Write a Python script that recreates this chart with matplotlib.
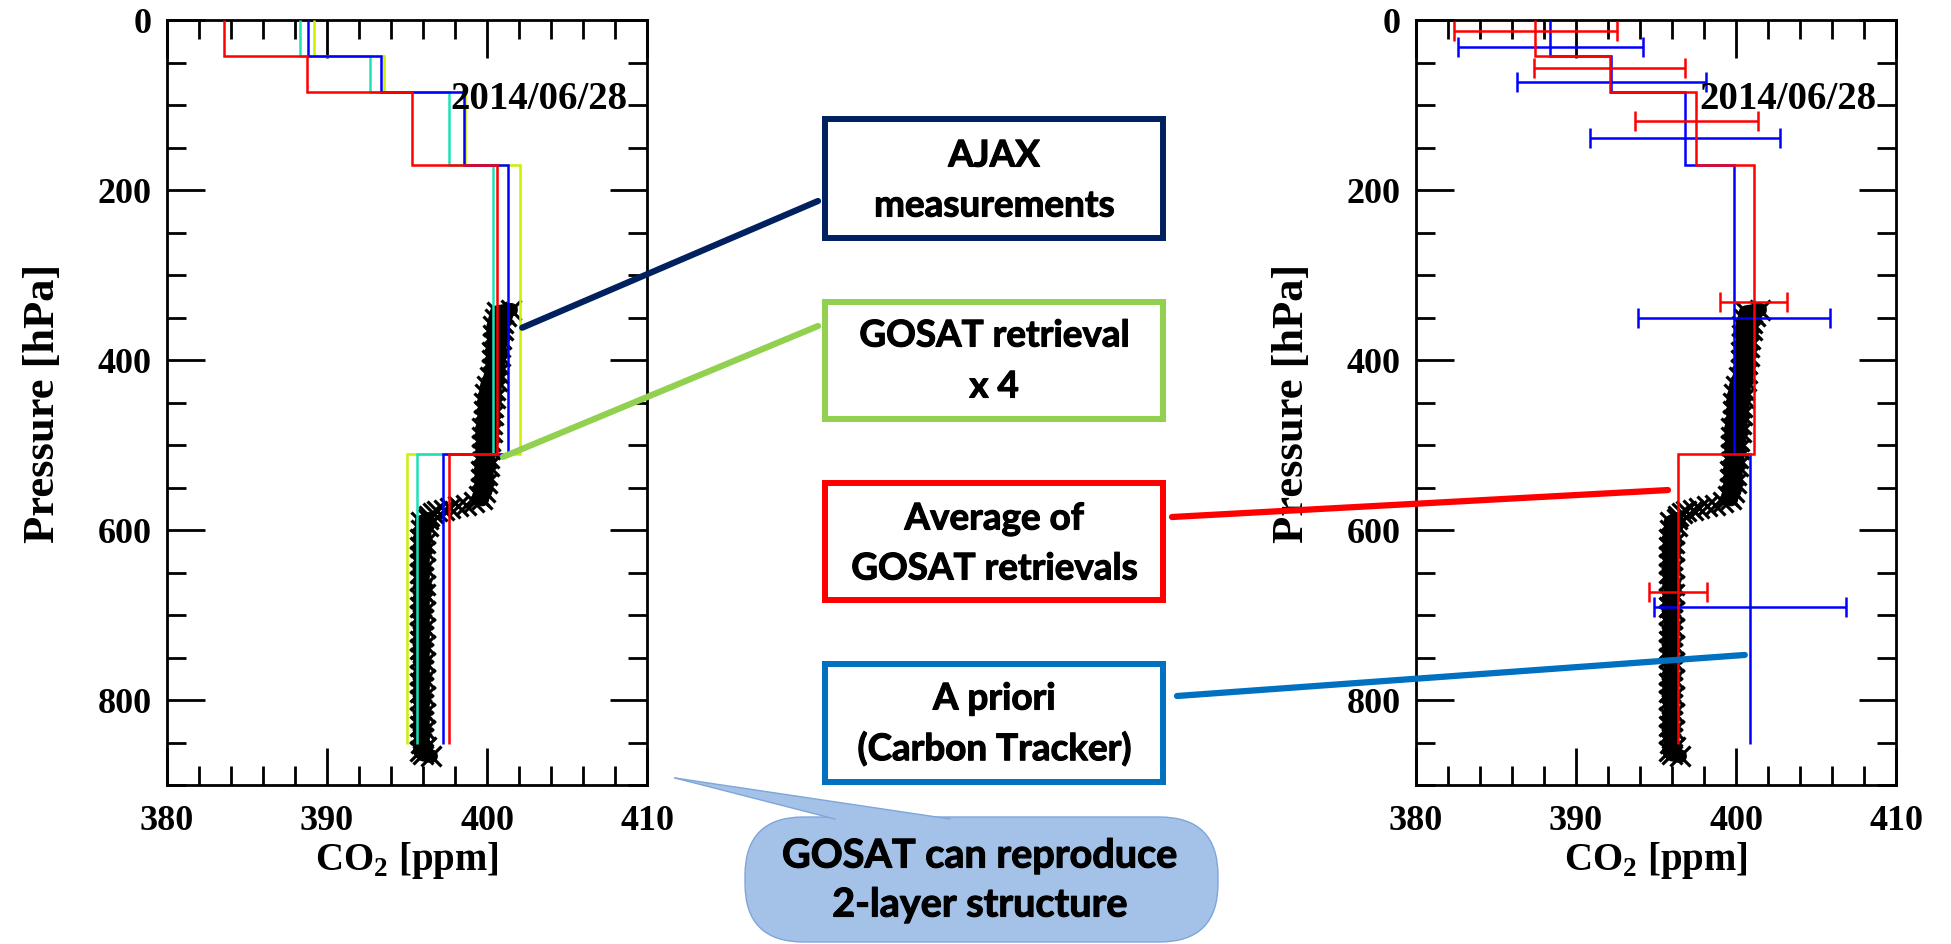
import matplotlib
matplotlib.use("Agg")
import matplotlib.pyplot as plt
import matplotlib.patheffects as pe
import numpy as np
from matplotlib.patches import Rectangle, FancyBboxPatch, Polygon, ConnectionPatch
from matplotlib.lines import Line2D
from matplotlib.ticker import MultipleLocator

plt.rcParams["font.family"] = ["Liberation Serif", "DejaVu Serif"]
plt.rcParams["font.weight"] = "bold"
plt.rcParams["mathtext.fontset"] = "custom"
plt.rcParams["mathtext.rm"] = "Liberation Serif:bold"
plt.rcParams["mathtext.bf"] = "Liberation Serif:bold"

W, H = 1951, 945
DATE = "2014/06/28"

# ---------------------------------------------------------------- data
# GOSAT layer edges [hPa]
layer_edges = [0, 42.5, 85, 170, 510, 852]

# four GOSAT retrievals, one CO2 value [ppm] per layer
ret_cyan = [388.3, 392.7, 397.6, 400.4, 395.65]
ret_blue = [388.8, 393.4, 398.55, 401.3, 397.25]
ret_ygreen = [389.2, 393.55, 398.6, 402.05, 395.0]
ret_red = [383.55, 388.75, 395.3, 400.65, 397.6]

# a priori (CarbonTracker)
apriori = [388.4, 392.2, 396.8, 399.9, 400.85]

# error bars: pressure where drawn and half-width [ppm]
avg_err_p = [12.6, 56.5, 118.4, 332, 673]
avg_err = [5.1, 4.7, 3.85, 2.1, 1.8]
apr_err_p = [31.4, 73.3, 138.8, 350, 691]
apr_err = [5.8, 5.9, 5.95, 6.0, 6.0]

# AJAX in-situ profile
ajax_p = [341, 344, 348, 352, 356, 360, 365, 370, 375, 380, 385, 390, 395, 400,
          405, 410, 415, 420, 425, 430, 435, 440, 445, 450, 455, 460, 465, 470,
          475, 480, 485, 490, 495, 500, 505, 510, 515, 520, 525, 530, 535, 540,
          545, 550, 555, 560, 564,
          567, 570, 572, 574, 576, 578, 580, 583,
          587, 591, 595, 600, 605, 610, 615, 620, 625, 630, 635, 640, 645, 650,
          655, 660, 665, 670, 675, 680, 685, 690, 695, 700, 705, 710, 715, 720,
          725, 730, 735, 740, 745, 750, 755, 760, 765, 770, 775, 780, 785, 790,
          795, 800, 805, 810, 815, 820, 825, 830, 835, 840, 845, 850, 855, 860,
          864, 866]
ajax_co2 = [401.5, 400.6, 401.2, 400.5, 401.0, 400.4, 401.0, 400.4, 400.9, 400.4,
            400.8, 400.3, 400.8, 400.3, 400.7, 400.3, 400.7, 400.2, 400.6, 400.0,
            400.5, 399.9, 400.5, 399.8, 400.4, 399.8, 400.4, 399.8, 400.3, 399.7,
            400.3, 399.7, 400.2, 399.7, 400.2, 399.7, 400.1, 399.7, 400.1, 399.6,
            400.0, 399.6, 400.0, 399.6, 399.9, 399.5, 399.7,
            399.2, 398.7, 398.2, 397.7, 397.3, 396.9, 396.6, 396.4,
            396.3, 395.9, 396.3, 395.9, 396.1, 395.8, 396.1, 395.8, 396.1, 395.8,
            396.0, 395.8, 396.1, 395.8, 396.0, 395.8, 396.1, 395.9, 396.1, 395.8,
            396.0, 395.8, 396.1, 395.8, 396.0, 395.9, 396.1, 395.8, 396.0, 395.8,
            396.1, 395.8, 396.0, 395.8, 396.1, 395.9, 396.0, 395.8, 396.1, 395.8,
            396.0, 395.8, 396.1, 395.8, 396.0, 395.9, 396.1, 395.8, 396.0, 395.8,
            396.1, 395.8, 396.0, 395.9, 396.2, 395.8, 396.0, 396.5]

retrievals = [ret_ygreen, ret_cyan, ret_blue, ret_red]
ret_colors = ["#CCF000", "#20E0B8", "#0000FF", "#FF0000"]
ret_avg = np.mean(retrievals, axis=0)

# dense stretches of the flight (sparse points in between stay as crosses)
upper = slice(0, 47)
lower = slice(55, None)


def fx(x):
    return x / W


def fy(y):
    return 1 - y / H


fig = plt.figure(figsize=(W / 100, H / 100), dpi=100)
ax_l = fig.add_axes([fx(167), fy(786), 480 / W, 765 / H])
ax_r = fig.add_axes([fx(1416), fy(786), 480 / W, 765 / H])


def style_axes(ax):
    ax.set_xlim(380, 410)
    ax.set_ylim(900, 0)
    ax.xaxis.set_major_locator(MultipleLocator(10))
    ax.xaxis.set_minor_locator(MultipleLocator(2))
    ax.yaxis.set_major_locator(MultipleLocator(200))
    ax.yaxis.set_minor_locator(MultipleLocator(50))
    ax.tick_params(which="both", direction="in", top=True, right=True,
                   width=2, labelsize=26)
    ax.tick_params(which="major", length=27)
    ax.tick_params(which="minor", length=14)
    ax.tick_params(axis="x", pad=14)
    ax.tick_params(axis="y", pad=11)
    for s in ax.spines.values():
        s.set_linewidth(2)
    ax.set_xlabel("CO$_2$ [ppm]", fontsize=28, fontweight="bold", labelpad=1)
    ax.set_ylabel("Pressure [hPa]", fontsize=32, fontweight="bold", labelpad=25)
    ax.text(397.7, 92, DATE, fontsize=28, ha="left", va="center", zorder=6)


def draw_ajax(ax):
    p = np.asarray(ajax_p)
    c = np.asarray(ajax_co2)
    for sl in (upper, lower):
        ax.plot(c[sl], p[sl], color="black", lw=10, solid_capstyle="round",
                zorder=2)
    ax.plot(c, p, "x", color="black", ms=14, mew=2.3, zorder=2)


# left: individual retrievals
style_axes(ax_l)
draw_ajax(ax_l)
for vals, col in zip(retrievals, ret_colors):
    ax_l.stairs(vals, layer_edges, orientation="horizontal", baseline=None,
                color=col, lw=1.8, zorder=3)

# right: average vs a priori with errors
style_axes(ax_r)
draw_ajax(ax_r)
ax_r.stairs(apriori, layer_edges, orientation="horizontal", baseline=None,
            color="#0000FF", lw=1.8, zorder=3)
ax_r.stairs(ret_avg, layer_edges, orientation="horizontal", baseline=None,
            color="#FF0000", lw=1.8, zorder=4)
ax_r.errorbar(ret_avg, avg_err_p, xerr=avg_err, fmt="none", ecolor="#FF0000",
              elinewidth=1.8, capsize=7, capthick=1.8, zorder=4)
ax_r.errorbar(apriori, apr_err_p, xerr=apr_err, fmt="none", ecolor="#0000FF",
              elinewidth=1.8, capsize=7, capthick=1.8, zorder=3)

# ---------------------------------------------------------------- legend boxes
heavy = [pe.withStroke(linewidth=0.8, foreground="black")]
box_font = dict(family=["Lato", "DejaVu Sans"], weight="bold", fontsize=26.5,
                ha="center", va="center", path_effects=heavy)
boxes = [
    ((825, 120, 1163, 239), "#002060", ["AJAX", "measurements"], [157, 207]),
    ((825, 303, 1163, 420), "#92D050", ["GOSAT retrieval", "x 4"], [337, 388]),
    ((825, 484, 1163, 601), "#FF0000", ["Average of", "GOSAT retrievals"], [520, 570]),
    ((825, 665, 1163, 783), "#0070C0", ["A priori", "(Carbon Tracker)"], [700, 750]),
]
for (x0, y0, x1, y1), col, lines, ys in boxes:
    fig.add_artist(Rectangle((fx(x0), fy(y1)), (x1 - x0) / W, (y1 - y0) / H,
                             transform=fig.transFigure, facecolor="white",
                             edgecolor=col, lw=4.3))
    for txt, yy in zip(lines, ys):
        fig.text(fx(994), fy(yy), txt, **box_font)

# connectors from boxes into the panels
links = [
    ((818, 202), ax_l, (402.2, 362), "#002060"),
    ((818, 327), ax_l, (401.0, 514), "#92D050"),
    ((1172, 518), ax_r, (395.75, 553), "#FF0000"),
    ((1177, 697), ax_r, (400.55, 747), "#0070C0"),
]
for (px, py), ax, xy, col in links:
    con = ConnectionPatch(xyA=(fx(px), fy(py)), coordsA=fig.transFigure,
                          xyB=xy, coordsB=ax.transData, color=col, lw=4.5,
                          zorder=5)
    fig.add_artist(con)

# ---------------------------------------------------------------- callout
bub_face = "#A4C2E8"
bub_edge = "#7EA6DA"
bx0, bx1, by0, by1 = 745, 1218, 818, 943
bubble = FancyBboxPatch((fx(bx0), fy(by1)), (bx1 - bx0) / W, (by1 - by0) / H,
                        boxstyle="round,pad=0,rounding_size=0.03",
                        mutation_aspect=W / H,
                        transform=fig.transFigure, facecolor=bub_face,
                        edgecolor=bub_edge, lw=1)
fig.add_artist(bubble)
tip = (fx(675), fy(779))
base_l = (fx(835), fy(820))
base_r = (fx(950), fy(820))
fig.add_artist(Polygon([tip, base_l, base_r], closed=True,
                       transform=fig.transFigure, facecolor=bub_face,
                       edgecolor="none"))
for b in (base_l, base_r):
    fig.add_artist(Line2D([tip[0], b[0]], [tip[1], b[1]],
                          transform=fig.transFigure, color=bub_edge, lw=1))
bub_font = dict(box_font, fontsize=28.5)
fig.text(fx(980), fy(857), "GOSAT can reproduce", **bub_font)
fig.text(fx(980), fy(906), "2-layer structure", **bub_font)

fig.savefig("out.png", dpi=100)
